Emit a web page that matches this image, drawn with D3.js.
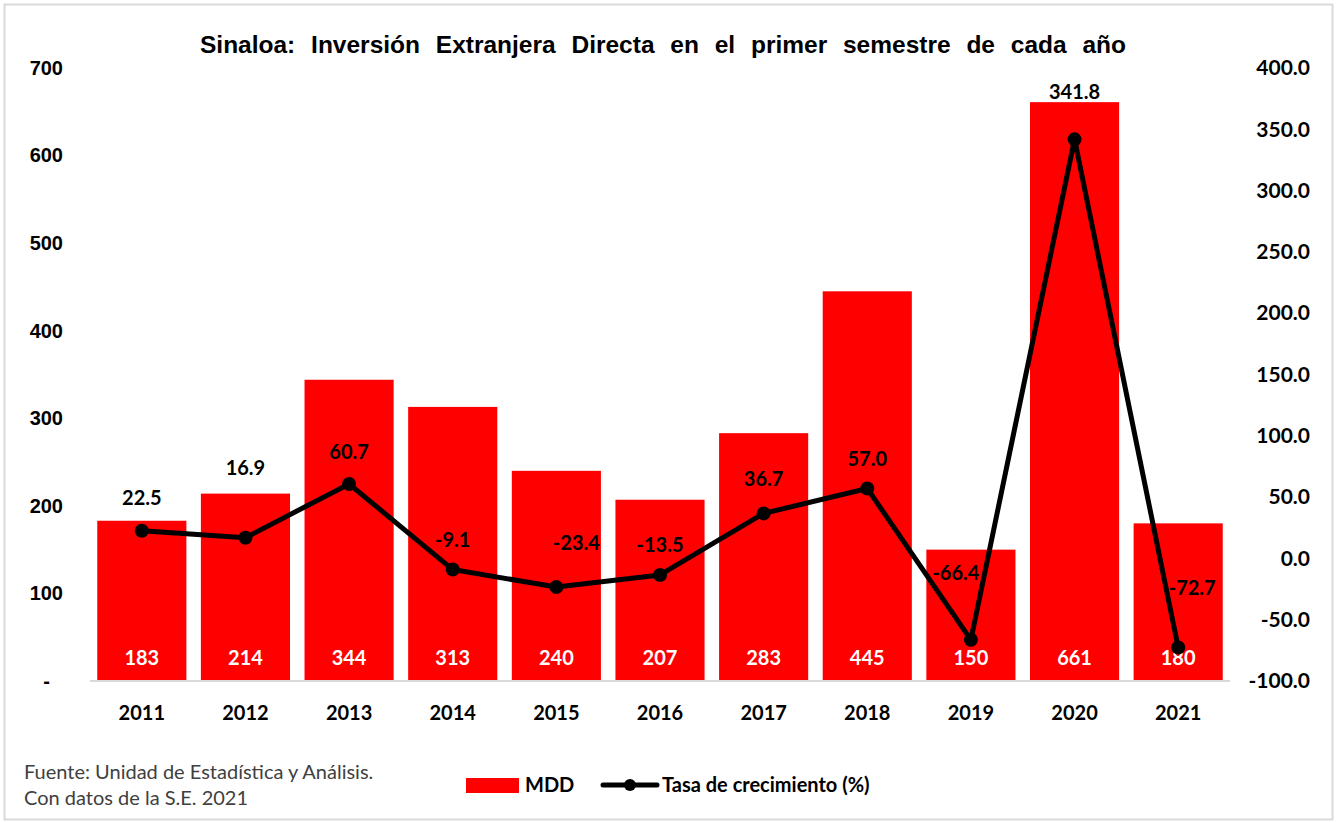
<!DOCTYPE html>
<html>
<head>
<meta charset="utf-8">
<script src="https://cdn.jsdelivr.net/npm/d3@7"></script>
<style>
  body { margin: 0; background: #fff; }
  svg { display: block; }
</style>
</head>
<body>
<div id="chart"></div>
<script>
// datos del primer semestre
var years = ["2011", "2012", "2013", "2014", "2015", "2016", "2017", "2018", "2019", "2020", "2021"];
var mdd = [183, 214, 344, 313, 240, 207, 283, 445, 150, 661, 180];
var tasa = [22.5, 16.9, 60.7, -9.1, -23.4, -13.5, 36.7, 57.0, -66.4, 341.8, -72.7];
var leftTicks = [0, 100, 200, 300, 400, 500, 600, 700];
var rightTicks = [-100, -50, 0, 50, 100, 150, 200, 250, 300, 350, 400];

// ajustes manuales de etiquetas (como en el Excel original)
var labelNudge = [[0, -34], [0, -71], [0, -33], [0, -31], [20, -45], [0, -31], [0, -35], [0, -31], [-15, -68], [0, -48], [14, -61]];

var width = 1338, height = 822;
var calibri = "Lato, 'Open Sans', sans-serif";
var arial = "'Liberation Sans', Arial, sans-serif";

// guion normal en vez del signo menos de d3
var fmt1 = function (d) { return d3.format(".1f")(d).replace("\u2212", "-"); };

var svg = d3.select("#chart")
    .append("svg")
    .attr("width", width)
    .attr("height", height);

svg.append("rect")
    .attr("x", 4.5).attr("y", 4.5)
    .attr("width", 1328).attr("height", 815)
    .attr("fill", "#fff")
    .attr("stroke", "#d9d9d9")
    .attr("stroke-width", 2);

var x = d3.scaleBand()
    .domain(years)
    .range([90, 1230])
    .paddingInner(0.14)
    .paddingOuter(0.07);

var y = d3.scaleLinear()
    .domain([0, 700])
    .range([681, 68]);

var y2 = d3.scaleLinear()
    .domain([-100, 400])
    .range([681, 68]);

// titulo
var title = svg.append("text")
    .attr("x", 663)
    .attr("y", 53)
    .attr("text-anchor", "middle")
    .style("font-family", arial)
    .style("font-weight", "bold")
    .style("font-size", "24.5px")
    .attr("fill", "#000")
    .text("Sinaloa: Inversión Extranjera Directa en el primer semestre de cada año");
var natural = title.node().getComputedTextLength();
title.style("word-spacing", ((935 - natural) / 11) + "px");

// barras
svg.selectAll(".bar")
    .data(mdd)
    .enter()
    .append("rect")
    .attr("class", "bar")
    .attr("x", function (d, i) { return x(years[i]); })
    .attr("y", function (d) { return y(d); })
    .attr("width", x.bandwidth())
    .attr("height", function (d) { return y(0) - y(d); })
    .attr("fill", "#ff0000");

// linea base
svg.append("line")
    .attr("x1", 90).attr("x2", 1230)
    .attr("y1", y(0)).attr("y2", y(0))
    .attr("stroke", "#d9d9d9")
    .attr("stroke-width", 2);

// eje izquierdo
var gy = svg.append("g")
    .attr("transform", "translate(90,0)")
    .call(d3.axisLeft(y)
        .tickValues(leftTicks)
        .tickSize(0)
        .tickPadding(27)
        .tickFormat(function (d) { return d === 0 ? "-" : d; }));
gy.select(".domain").remove();
gy.selectAll("text")
    .style("font-family", arial)
    .style("font-weight", "bold")
    .style("font-size", "20px")
    .attr("fill", "#000");
gy.selectAll(".tick text")
    .filter(function (d) { return d === 0; })
    .attr("dx", -13);

// eje derecho
var gy2 = svg.append("g")
    .attr("transform", "translate(1230,0)")
    .call(d3.axisRight(y2)
        .tickValues(rightTicks)
        .tickSize(0)
        .tickPadding(80)
        .tickFormat(fmt1));
gy2.select(".domain").remove();
gy2.selectAll("text")
    .attr("text-anchor", "end")
    .style("font-family", calibri)
    .style("font-weight", "bold")
    .style("font-size", "21px")
    .attr("fill", "#000");

// eje x
var gx = svg.append("g")
    .attr("transform", "translate(0," + y(0) + ")")
    .call(d3.axisBottom(x).tickSize(0).tickPadding(25));
gx.select(".domain").remove();
gx.selectAll("text")
    .style("font-family", calibri)
    .style("font-weight", "bold")
    .style("font-size", "20px")
    .attr("fill", "#000");

// etiquetas de barras
svg.selectAll(".bar-label")
    .data(mdd)
    .enter()
    .append("text")
    .attr("class", "bar-label")
    .attr("x", function (d, i) { return x(years[i]) + x.bandwidth() / 2; })
    .attr("y", y(0) - 24)
    .attr("text-anchor", "middle")
    .attr("dominant-baseline", "central")
    .style("font-family", calibri)
    .style("font-weight", "bold")
    .style("font-size", "20px")
    .attr("fill", "#fff")
    .text(function (d) { return d; });

// linea de tasa
var cx = function (d, i) { return x(years[i]) + x.bandwidth() / 2; };
var line = d3.line()
    .x(cx)
    .y(function (d) { return y2(d); });

svg.append("path")
    .datum(tasa)
    .attr("d", line)
    .attr("fill", "none")
    .attr("stroke", "#000")
    .attr("stroke-width", 5)
    .attr("stroke-linejoin", "round");

svg.selectAll(".dot")
    .data(tasa)
    .enter()
    .append("circle")
    .attr("class", "dot")
    .attr("cx", cx)
    .attr("cy", function (d) { return y2(d); })
    .attr("r", 7)
    .attr("fill", "#000");

svg.selectAll(".line-label")
    .data(tasa)
    .enter()
    .append("text")
    .attr("class", "line-label")
    .attr("x", function (d, i) { return cx(d, i) + labelNudge[i][0]; })
    .attr("y", function (d, i) { return y2(d) + labelNudge[i][1]; })
    .attr("text-anchor", "middle")
    .attr("dominant-baseline", "central")
    .style("font-family", calibri)
    .style("font-weight", "bold")
    .style("font-size", "20px")
    .attr("fill", "#000")
    .text(fmt1);

// leyenda
var legend = svg.append("g");
legend.append("rect")
    .attr("x", 466).attr("y", 778)
    .attr("width", 53).attr("height", 15)
    .attr("fill", "#ff0000");
legend.append("text")
    .attr("x", 525).attr("y", 792)
    .style("font-family", calibri)
    .style("font-weight", "bold")
    .style("font-size", "20px")
    .attr("fill", "#000")
    .text("MDD");
legend.append("line")
    .attr("x1", 603).attr("x2", 657)
    .attr("y1", 785).attr("y2", 785)
    .attr("stroke", "#000")
    .attr("stroke-width", 5)
    .attr("stroke-linecap", "round");
legend.append("circle")
    .attr("cx", 630).attr("cy", 785)
    .attr("r", 6)
    .attr("fill", "#000");
legend.append("text")
    .attr("x", 662).attr("y", 792)
    .style("font-family", calibri)
    .style("font-weight", "bold")
    .style("font-size", "20px")
    .attr("fill", "#000")
    .text("Tasa de crecimiento (%)");

// fuente
var nota = svg.append("text")
    .attr("x", 24)
    .style("font-family", calibri)
    .style("font-size", "20px")
    .attr("fill", "#404040");
nota.append("tspan").attr("x", 24).attr("y", 779).text("Fuente: Unidad de Estadística y Análisis.");
nota.append("tspan").attr("x", 24).attr("y", 805).text("Con datos de la S.E. 2021");
</script>
</body>
</html>
